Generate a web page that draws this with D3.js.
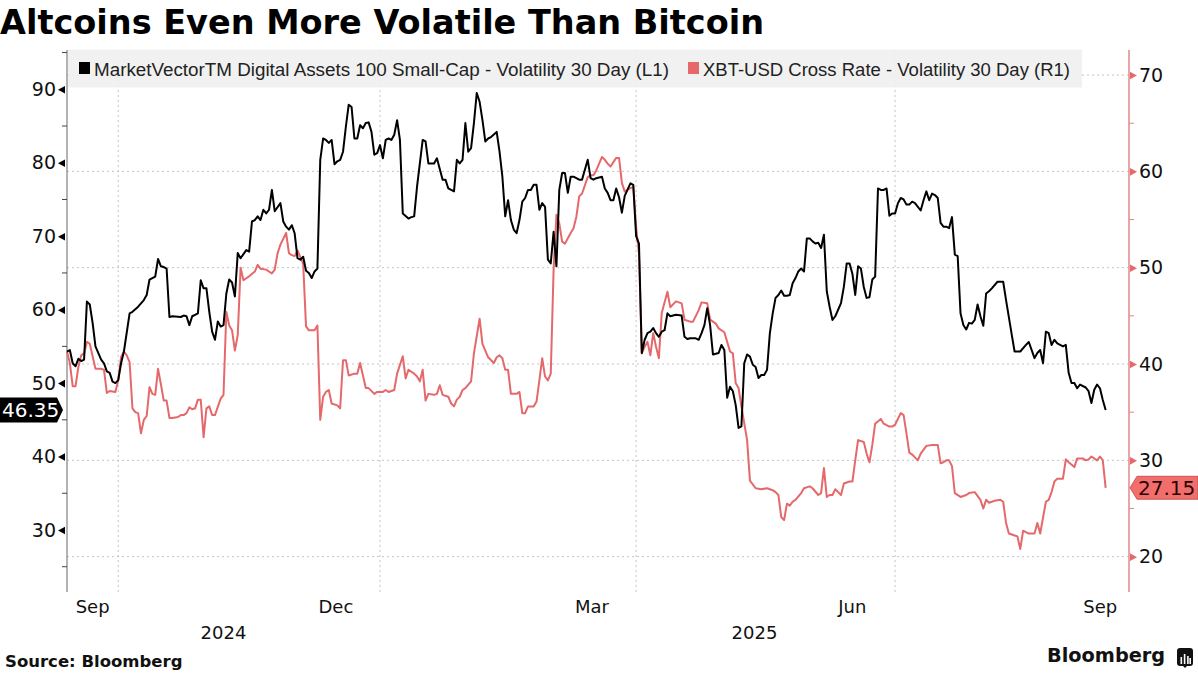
<!DOCTYPE html>
<html><head><meta charset="utf-8">
<script src="https://cdn.jsdelivr.net/npm/d3@7"></script>
<style>body{margin:0;background:#fff}svg{display:block}</style>
</head><body>
<svg id="chart" width="1198" height="673"></svg>
<script>
// ---------------- DATA ----------------
const titleText = "Altcoins Even More Volatile Than Bitcoin";
const seriesNames = ["MarketVectorTM Digital Assets 100 Small-Cap - Volatility 30 Day (L1)", "XBT-USD Cross Rate - Volatility 30 Day (R1)"];
const sourceText = "Source: Bloomberg";
const leftTicks = [30, 40, 50, 60, 70, 80, 90];
const leftMinorTicks = [25, 35, 45, 55, 65, 75, 85, 95];
const rightTicks = [20, 30, 40, 50, 60, 70];
const rightMinorTicks = [25, 35, 45, 55, 65];
const quarterTicks = ["2024-10-01", "2025-01-01", "2025-04-01", "2025-07-01"];
const monthLabels = [["Sep", "2024-09-01", "2024-10-01"], ["Dec", "2024-12-01", "2025-01-01"], ["Mar", "2025-03-01", "2025-04-01"], ["Jun", "2025-06-01", "2025-07-01"], ["Sep", "2025-09-01", "2025-10-01"]];
const yearLabels = [["2024", "2024-01-01", "2025-01-01"], ["2025", "2025-01-01", "2026-01-01"]];
const dateDomain = ["2024-09-13", "2025-09-21"];
const leftDomain = [21.56, 95.35];
const rightDomain = [16.33, 72.6];

const smallCapVol = [
["2024-09-13",54.3],["2024-09-14",54.5],["2024-09-15",52.7],["2024-09-16",52.3],["2024-09-17",53.3],["2024-09-18",53.0],["2024-09-19",53.2],["2024-09-20",61.1],["2024-09-21",60.7],["2024-09-22",58.2],["2024-09-23",55.0],["2024-09-25",53.2],["2024-09-26",52.7],["2024-09-27",51.6],["2024-09-28",51.4],["2024-09-29",50.2],["2024-09-30",50.0],
["2024-10-01",50.4],["2024-10-02",52.7],["2024-10-03",54.3],["2024-10-05",59.5],["2024-10-06",59.7],["2024-10-08",60.4],["2024-10-10",61.3],["2024-10-11",62.0],["2024-10-12",64.1],["2024-10-13",64.3],["2024-10-14",64.5],["2024-10-15",66.9],["2024-10-16",65.9],["2024-10-17",65.8],["2024-10-18",65.6],["2024-10-19",59.0],["2024-10-20",59.1],["2024-10-23",59.0],["2024-10-24",59.2],["2024-10-25",59.1],["2024-10-26",57.9],["2024-10-27",59.1],["2024-10-28",59.3],["2024-10-29",59.5],["2024-10-30",64.0],["2024-10-31",62.9],
["2024-11-01",62.9],["2024-11-02",59.7],["2024-11-03",57.0],["2024-11-04",55.9],["2024-11-05",58.4],["2024-11-06",57.7],["2024-11-07",57.9],["2024-11-08",62.2],["2024-11-09",64.1],["2024-11-10",63.7],["2024-11-11",61.8],["2024-11-12",67.7],["2024-11-13",67.0],["2024-11-15",68.1],["2024-11-16",67.9],["2024-11-17",72.0],["2024-11-18",72.2],["2024-11-19",72.7],["2024-11-20",72.2],["2024-11-21",73.6],["2024-11-22",73.1],["2024-11-23",73.6],["2024-11-24",76.3],["2024-11-25",73.4],["2024-11-27",74.5],["2024-11-28",72.0],["2024-11-29",71.3],["2024-11-30",70.9],
["2024-12-01",71.5],["2024-12-02",70.4],["2024-12-03",67.0],["2024-12-04",66.8],["2024-12-05",67.2],["2024-12-06",65.3],["2024-12-07",65.0],["2024-12-08",64.3],["2024-12-09",65.2],["2024-12-10",65.6],["2024-12-11",80.4],["2024-12-12",83.3],["2024-12-13",83.1],["2024-12-14",82.7],["2024-12-15",83.1],["2024-12-16",79.8],["2024-12-17",80.2],["2024-12-18",80.4],["2024-12-19",81.5],["2024-12-20",84.9],["2024-12-21",87.9],["2024-12-22",87.6],["2024-12-23",83.3],["2024-12-24",83.3],["2024-12-25",85.1],["2024-12-26",84.7],["2024-12-27",85.4],["2024-12-28",85.5],["2024-12-29",84.2],["2024-12-30",81.1],["2024-12-31",81.3],
["2025-01-01",82.4],["2025-01-02",80.6],["2025-01-03",83.1],["2025-01-04",83.3],["2025-01-05",83.1],["2025-01-06",83.8],["2025-01-07",85.8],["2025-01-08",83.1],["2025-01-09",73.1],["2025-01-11",72.4],["2025-01-12",72.6],["2025-01-13",72.7],["2025-01-14",76.7],["2025-01-16",83.1],["2025-01-17",82.9],["2025-01-18",79.9],["2025-01-19",79.9],["2025-01-20",79.9],["2025-01-21",80.6],["2025-01-23",77.7],["2025-01-24",77.7],["2025-01-25",76.5],["2025-01-26",76.3],["2025-01-27",76.1],["2025-01-28",80.4],["2025-01-29",79.9],["2025-01-30",80.4],["2025-01-31",85.4],
["2025-02-01",81.5],["2025-02-02",82.0],["2025-02-03",85.4],["2025-02-04",89.5],["2025-02-05",88.3],["2025-02-06",85.8],["2025-02-07",82.9],["2025-02-08",83.3],["2025-02-09",83.5],["2025-02-11",84.2],["2025-02-12",81.5],["2025-02-13",78.1],["2025-02-14",72.7],["2025-02-15",74.9],["2025-02-16",72.2],["2025-02-17",70.9],["2025-02-18",70.4],["2025-02-19",72.2],["2025-02-20",74.7],["2025-02-21",75.2],["2025-02-22",76.3],["2025-02-23",76.3],["2025-02-24",77.0],["2025-02-25",77.0],["2025-02-26",73.6],["2025-02-27",74.5],["2025-02-28",74.0],
["2025-03-01",66.8],["2025-03-02",66.3],["2025-03-03",70.6],["2025-03-04",65.9],["2025-03-05",76.3],["2025-03-06",78.6],["2025-03-07",78.6],["2025-03-08",75.9],["2025-03-09",78.1],["2025-03-10",78.1],["2025-03-12",77.7],["2025-03-13",77.7],["2025-03-15",80.4],["2025-03-16",77.9],["2025-03-17",77.7],["2025-03-18",77.9],["2025-03-20",78.1],["2025-03-21",76.5],["2025-03-22",75.9],["2025-03-23",74.9],["2025-03-24",74.9],["2025-03-25",76.5],["2025-03-26",75.3],["2025-03-27",73.2],["2025-03-28",75.5],["2025-03-30",77.2],["2025-03-31",77.0],
["2025-04-01",70.0],["2025-04-02",69.0],["2025-04-03",54.1],["2025-04-04",55.9],["2025-04-05",56.8],["2025-04-06",57.0],["2025-04-07",57.5],["2025-04-08",56.8],["2025-04-09",56.3],["2025-04-10",57.0],["2025-04-11",57.2],["2025-04-12",59.5],["2025-04-13",59.1],["2025-04-15",59.3],["2025-04-17",59.2],["2025-04-18",56.3],["2025-04-19",56.0],["2025-04-20",56.1],["2025-04-22",56.1],["2025-04-23",55.9],["2025-04-24",56.8],["2025-04-25",57.9],["2025-04-26",60.2],["2025-04-27",57.9],["2025-04-28",53.9],["2025-04-30",54.1],
["2025-05-01",55.2],["2025-05-02",54.5],["2025-05-03",48.0],["2025-05-04",49.5],["2025-05-05",48.9],["2025-05-06",47.0],["2025-05-07",43.9],["2025-05-08",44.1],["2025-05-09",52.7],["2025-05-10",53.9],["2025-05-11",53.6],["2025-05-12",52.5],["2025-05-13",52.2],["2025-05-14",50.7],["2025-05-15",51.1],["2025-05-16",51.1],["2025-05-17",51.8],["2025-05-18",56.8],["2025-05-19",59.5],["2025-05-20",61.6],["2025-05-21",62.0],["2025-05-22",62.6],["2025-05-23",61.9],["2025-05-24",61.9],["2025-05-25",62.0],["2025-05-26",63.6],["2025-05-27",64.3],["2025-05-28",65.2],["2025-05-29",65.6],["2025-05-30",65.2],["2025-05-31",69.7],
["2025-06-01",69.7],["2025-06-02",69.3],["2025-06-03",69.0],["2025-06-04",69.1],["2025-06-05",68.4],["2025-06-06",70.2],["2025-06-07",62.5],["2025-06-08",60.4],["2025-06-09",58.6],["2025-06-10",59.1],["2025-06-12",60.9],["2025-06-13",63.1],["2025-06-14",66.3],["2025-06-15",66.3],["2025-06-16",64.9],["2025-06-17",62.0],["2025-06-18",65.9],["2025-06-19",65.6],["2025-06-20",63.1],["2025-06-21",61.6],["2025-06-22",61.7],["2025-06-23",64.1],["2025-06-24",64.5],["2025-06-25",76.5],["2025-06-26",76.3],["2025-06-27",76.3],["2025-06-28",76.5],["2025-06-29",72.8],["2025-06-30",73.1],
["2025-07-01",73.1],["2025-07-02",74.5],["2025-07-03",75.2],["2025-07-04",75.0],["2025-07-05",74.3],["2025-07-06",74.3],["2025-07-07",74.7],["2025-07-08",74.5],["2025-07-10",73.5],["2025-07-11",74.9],["2025-07-12",76.1],["2025-07-13",74.9],["2025-07-14",75.8],["2025-07-15",75.6],["2025-07-16",75.2],["2025-07-17",71.8],["2025-07-18",71.3],["2025-07-19",71.3],["2025-07-20",71.1],["2025-07-21",72.6],["2025-07-22",67.5],["2025-07-23",67.3],["2025-07-24",59.5],["2025-07-25",57.9],["2025-07-26",57.3],["2025-07-27",58.2],["2025-07-28",58.1],["2025-07-29",58.6],["2025-07-30",60.7],["2025-07-31",59.1],
["2025-08-01",57.8],["2025-08-02",62.2],["2025-08-03",62.5],["2025-08-04",62.9],["2025-08-06",63.8],["2025-08-08",63.8],["2025-08-09",61.3],["2025-08-11",56.6],["2025-08-12",54.3],["2025-08-14",54.3],["2025-08-16",55.2],["2025-08-17",55.6],["2025-08-19",53.4],["2025-08-20",54.1],["2025-08-21",54.5],["2025-08-22",52.7],["2025-08-23",57.0],["2025-08-24",56.8],["2025-08-25",55.2],["2025-08-26",55.9],["2025-08-27",55.4],["2025-08-29",55.0],["2025-08-30",55.2],["2025-08-31",51.4],
["2025-09-01",50.0],["2025-09-02",50.0],["2025-09-03",49.3],["2025-09-04",49.8],["2025-09-06",49.4],["2025-09-07",48.9],["2025-09-08",47.3],["2025-09-09",49.1],["2025-09-10",49.8],["2025-09-11",49.3],["2025-09-12",47.7],["2025-09-13",46.35]
];

const bitcoinVol = [
["2024-09-13",41.3],["2024-09-14",40.1],["2024-09-15",37.7],["2024-09-16",37.7],["2024-09-17",39.7],["2024-09-18",40.9],["2024-09-19",41.1],["2024-09-20",42.3],["2024-09-21",42.1],["2024-09-23",39.5],["2024-09-25",39.5],["2024-09-26",39.4],["2024-09-27",37.0],["2024-09-28",37.2],["2024-09-30",37.1],
["2024-10-01",38.3],["2024-10-02",40.7],["2024-10-03",41.3],["2024-10-04",40.9],["2024-10-05",40.2],["2024-10-06",35.4],["2024-10-07",35.0],["2024-10-08",34.9],["2024-10-09",32.8],["2024-10-10",34.2],["2024-10-11",34.6],["2024-10-12",37.6],["2024-10-13",36.9],["2024-10-14",36.8],["2024-10-15",39.5],["2024-10-16",37.9],["2024-10-17",36.2],["2024-10-18",36.2],["2024-10-19",34.4],["2024-10-20",34.4],["2024-10-22",34.5],["2024-10-23",34.7],["2024-10-24",34.7],["2024-10-25",34.9],["2024-10-26",35.5],["2024-10-27",35.3],["2024-10-28",35.4],["2024-10-29",36.3],["2024-10-30",36.3],["2024-10-31",32.4],
["2024-11-01",35.4],["2024-11-02",35.6],["2024-11-03",34.7],["2024-11-04",34.7],["2024-11-06",36.4],["2024-11-07",36.8],["2024-11-08",45.4],["2024-11-09",44.0],["2024-11-10",43.5],["2024-11-11",41.4],["2024-11-12",43.0],["2024-11-13",50.0],["2024-11-14",48.7],["2024-11-15",48.9],["2024-11-16",49.1],["2024-11-18",49.6],["2024-11-19",50.3],["2024-11-20",49.9],["2024-11-22",49.8],["2024-11-24",49.4],["2024-11-25",49.8],["2024-11-26",51.5],["2024-11-27",52.4],["2024-11-29",53.6],["2024-11-30",51.5],
["2024-12-01",51.3],["2024-12-02",51.2],["2024-12-03",51.8],["2024-12-04",51.1],["2024-12-05",50.4],["2024-12-06",43.9],["2024-12-07",43.5],["2024-12-09",43.5],["2024-12-10",44.0],["2024-12-11",34.2],["2024-12-12",36.6],["2024-12-13",37.1],["2024-12-14",37.3],["2024-12-15",35.9],["2024-12-17",35.7],["2024-12-18",35.4],["2024-12-19",40.4],["2024-12-20",40.4],["2024-12-21",38.8],["2024-12-23",39.0],["2024-12-24",39.0],["2024-12-25",40.1],["2024-12-26",38.8],["2024-12-27",37.5],["2024-12-28",37.5],["2024-12-30",36.9],["2024-12-31",37.1],
["2025-01-02",37.1],["2025-01-03",37.3],["2025-01-04",37.1],["2025-01-06",37.3],["2025-01-07",39.0],["2025-01-09",40.8],["2025-01-10",38.5],["2025-01-11",39.4],["2025-01-13",39.0],["2025-01-14",38.7],["2025-01-15",38.2],["2025-01-16",39.4],["2025-01-17",36.2],["2025-01-18",36.9],["2025-01-20",36.8],["2025-01-21",36.9],["2025-01-22",37.8],["2025-01-23",36.8],["2025-01-25",36.6],["2025-01-26",35.9],["2025-01-27",35.6],["2025-01-28",36.3],["2025-01-29",36.6],["2025-01-30",37.3],["2025-01-31",37.5],
["2025-02-02",38.2],["2025-02-03",41.1],["2025-02-05",44.7],["2025-02-06",42.1],["2025-02-07",41.4],["2025-02-08",40.7],["2025-02-10",40.1],["2025-02-11",40.7],["2025-02-12",40.9],["2025-02-13",40.6],["2025-02-14",39.4],["2025-02-15",39.4],["2025-02-16",36.9],["2025-02-18",36.9],["2025-02-19",37.1],["2025-02-20",34.9],["2025-02-21",34.9],["2025-02-22",35.6],["2025-02-24",35.6],["2025-02-25",36.1],["2025-02-26",38.3],["2025-02-27",40.6],["2025-02-28",38.7],
["2025-03-01",38.3],["2025-03-02",39.0],["2025-03-03",49.8],["2025-03-04",55.5],["2025-03-05",54.6],["2025-03-06",52.7],["2025-03-07",52.5],["2025-03-09",53.6],["2025-03-10",54.1],["2025-03-11",55.3],["2025-03-12",57.4],["2025-03-13",57.7],["2025-03-15",59.4],["2025-03-16",59.6],["2025-03-17",59.6],["2025-03-18",60.1],["2025-03-20",61.5],["2025-03-21",61.2],["2025-03-22",60.8],["2025-03-23",60.5],["2025-03-25",61.4],["2025-03-26",61.4],["2025-03-27",58.8],["2025-03-28",57.9],["2025-03-29",58.1],["2025-03-31",58.4],
["2025-04-01",54.2],["2025-04-02",51.5],["2025-04-03",41.1],["2025-04-04",41.8],["2025-04-05",42.3],["2025-04-06",40.9],["2025-04-07",43.2],["2025-04-08",41.8],["2025-04-09",40.6],["2025-04-10",45.3],["2025-04-12",47.5],["2025-04-13",45.9],["2025-04-15",46.5],["2025-04-17",46.3],["2025-04-18",44.6],["2025-04-20",44.4],["2025-04-21",44.4],["2025-04-23",45.6],["2025-04-24",46.4],["2025-04-26",46.3],["2025-04-27",44.6],["2025-04-29",44.2],["2025-04-30",43.7],
["2025-05-02",43.3],["2025-05-03",42.3],["2025-05-04",41.3],["2025-05-05",41.1],["2025-05-06",38.0],["2025-05-07",37.5],["2025-05-08",35.6],["2025-05-10",32.1],["2025-05-11",27.9],["2025-05-13",27.1],["2025-05-15",27.0],["2025-05-17",27.1],["2025-05-19",26.9],["2025-05-20",26.7],["2025-05-21",26.4],["2025-05-22",24.1],["2025-05-23",23.8],["2025-05-24",25.5],["2025-05-25",25.3],["2025-05-26",25.7],["2025-05-27",25.9],["2025-05-29",26.6],["2025-05-30",27.1],
["2025-06-01",27.3],["2025-06-02",27.1],["2025-06-04",26.4],["2025-06-05",26.6],["2025-06-06",29.2],["2025-06-07",26.2],["2025-06-08",26.4],["2025-06-09",26.4],["2025-06-10",27.0],["2025-06-11",26.7],["2025-06-12",26.4],["2025-06-13",27.6],["2025-06-15",27.8],["2025-06-16",27.8],["2025-06-17",30.0],["2025-06-18",32.1],["2025-06-20",31.9],["2025-06-21",30.7],["2025-06-22",29.8],["2025-06-23",31.6],["2025-06-24",33.8],["2025-06-26",34.3],["2025-06-27",33.8],["2025-06-29",33.5],["2025-06-30",33.5],
["2025-07-01",33.7],["2025-07-03",34.9],["2025-07-04",34.7],["2025-07-05",32.8],["2025-07-06",30.8],["2025-07-07",30.6],["2025-07-09",30.0],["2025-07-10",30.7],["2025-07-12",31.5],["2025-07-14",31.6],["2025-07-16",31.6],["2025-07-17",29.7],["2025-07-18",29.8],["2025-07-19",30.0],["2025-07-20",30.0],["2025-07-21",29.4],["2025-07-22",26.6],["2025-07-24",26.2],["2025-07-26",26.4],["2025-07-27",26.6],["2025-07-29",26.7],["2025-07-31",25.9],
["2025-08-01",25.0],["2025-08-02",25.9],["2025-08-03",25.6],["2025-08-05",25.8],["2025-08-07",25.9],["2025-08-08",25.7],["2025-08-09",23.5],["2025-08-10",22.4],["2025-08-12",22.2],["2025-08-13",22.1],["2025-08-14",20.8],["2025-08-15",22.7],["2025-08-17",22.4],["2025-08-19",22.4],["2025-08-20",23.5],["2025-08-21",22.4],["2025-08-23",25.7],["2025-08-24",25.9],["2025-08-25",26.7],["2025-08-26",27.8],["2025-08-27",28.1],["2025-08-29",28.1],["2025-08-30",30.1],["2025-08-31",29.8],
["2025-09-02",29.3],["2025-09-03",30.2],["2025-09-05",30.2],["2025-09-06",30.0],["2025-09-07",30.1],["2025-09-08",30.4],["2025-09-10",30.0],["2025-09-11",30.4],["2025-09-12",30.0],["2025-09-13",27.15]
];

// ---------------- CHART ----------------
const BLACK = "#000000", RED = "#e5686a", RED_AXIS = "#e08a86", GRID = "#c4c4c4";
const BODY = "'DejaVu Sans', sans-serif";
const svg = d3.select("#chart");
const parse = d3.utcParse("%Y-%m-%d");
const plot = {left: 67, right: 1129, top: 50, bottom: 592};

const x = d3.scaleUtc().domain([parse(dateDomain[0]), d3.utcHour.offset(parse(dateDomain[1]), 5)]).range([plot.left, plot.right]);
const yL = d3.scaleLinear().domain(leftDomain).range([plot.bottom, plot.top]);
const yR = d3.scaleLinear().domain(rightDomain).range([plot.bottom, plot.top]);

// title
svg.append("text").attr("x", 0).attr("y", 34).text(titleText)
  .attr("font-family", "'DejaVu Sans', sans-serif").attr("font-weight", "bold")
  .attr("font-size", 33.5).attr("fill", "#000");

// gridlines
const grid = svg.append("g");
grid.selectAll("line.h").data(rightTicks).join("line")
  .attr("x1", plot.left).attr("x2", plot.right)
  .attr("y1", d => yR(d)).attr("y2", d => yR(d))
  .attr("stroke", GRID).attr("stroke-width", 1).attr("stroke-dasharray", "2,3");
grid.selectAll("line.v").data(quarterTicks).join("line")
  .attr("x1", d => x(parse(d))).attr("x2", d => x(parse(d)))
  .attr("y1", plot.top).attr("y2", plot.bottom)
  .attr("stroke", GRID).attr("stroke-width", 1).attr("stroke-dasharray", "2,3");

// legend
const lg = svg.append("g");
lg.append("rect").attr("x", plot.left + 1).attr("y", 49.5).attr("width", 1014).attr("height", 38)
  .attr("fill", "#efefef").attr("opacity", 0.9);
const legendItems = [
  {name: seriesNames[0], color: BLACK, sx: 79, tx: 94, len: 575},
  {name: seriesNames[1], color: RED, sx: 688, tx: 703, len: 367}
];
legendItems.forEach(it => {
  lg.append("rect").attr("x", it.sx).attr("y", 62).attr("width", 11).attr("height", 12).attr("fill", it.color);
  lg.append("text").attr("x", it.tx).attr("y", 75.5).text(it.name)
    .attr("font-family", "'Liberation Sans', Arial, sans-serif").attr("font-size", 17.5).attr("fill", "#222")
    .attr("textLength", it.len).attr("lengthAdjust", "spacingAndGlyphs");
});

// left axis
svg.append("line").attr("x1", plot.left).attr("x2", plot.left).attr("y1", plot.top).attr("y2", plot.bottom)
  .attr("stroke", "#808080").attr("stroke-width", 1.2);
const gL = svg.append("g").attr("transform", `translate(${plot.left},0)`)
  .call(d3.axisLeft(yL).tickValues(leftTicks).tickSize(0).tickPadding(11).tickFormat(d3.format("d")));
gL.select(".domain").remove();
gL.selectAll("text").attr("font-family", BODY).attr("font-size", 19).attr("fill", "#111");
gL.selectAll(".tick").append("path").attr("d", "M-9,0L-2,-3.8L-2,3.8Z").attr("fill", "#000");
svg.append("g").selectAll("line").data(leftMinorTicks).join("line")
  .attr("x1", plot.left - 5).attr("x2", plot.left).attr("y1", d => yL(d)).attr("y2", d => yL(d))
  .attr("stroke", "#444").attr("stroke-width", 1);

// right axis
svg.append("line").attr("x1", plot.right).attr("x2", plot.right).attr("y1", plot.top).attr("y2", plot.bottom)
  .attr("stroke", RED_AXIS).attr("stroke-width", 1.5);
const gR = svg.append("g").attr("transform", `translate(${plot.right},0)`)
  .call(d3.axisRight(yR).tickValues(rightTicks).tickSize(0).tickPadding(10).tickFormat(d3.format("d")));
gR.select(".domain").remove();
gR.selectAll("text").attr("font-family", BODY).attr("font-size", 19).attr("fill", "#111");
gR.selectAll(".tick").append("path").attr("d", "M1,-3.8L8,0L1,3.8Z").attr("fill", RED);
svg.append("g").selectAll("line").data(rightMinorTicks).join("line")
  .attr("x1", plot.right).attr("x2", plot.right + 5).attr("y1", d => yR(d)).attr("y2", d => yR(d))
  .attr("stroke", RED_AXIS).attr("stroke-width", 1);

// bottom labels
const [d0, d1] = x.domain();
function midX(a, b) {
  const s = new Date(Math.max(+parse(a), +d0)), e = new Date(Math.min(+parse(b), +d1));
  return (x(s) + x(e)) / 2;
}
svg.append("g").selectAll("text").data(monthLabels).join("text")
  .attr("x", d => midX(d[1], d[2])).attr("y", 613).attr("text-anchor", "middle").text(d => d[0])
  .attr("font-family", BODY).attr("font-size", 18).attr("fill", "#111");
svg.append("g").selectAll("text").data(yearLabels).join("text")
  .attr("x", d => midX(d[1], d[2])).attr("y", 639).attr("text-anchor", "middle").text(d => d[0])
  .attr("font-family", BODY).attr("font-size", 18).attr("fill", "#111");

// lines
svg.append("path").datum(bitcoinVol)
  .attr("d", d3.line().x(d => x(parse(d[0]))).y(d => yR(d[1])))
  .attr("fill", "none").attr("stroke", RED).attr("stroke-width", 2).attr("stroke-linejoin", "round");
svg.append("path").datum(smallCapVol)
  .attr("d", d3.line().x(d => x(parse(d[0]))).y(d => yL(d[1])))
  .attr("fill", "none").attr("stroke", BLACK).attr("stroke-width", 2).attr("stroke-linejoin", "round");

// last-value tags
const lastL = smallCapVol[smallCapVol.length - 1][1];
const lastR = bitcoinVol[bitcoinVol.length - 1][1];
const yl = yL(lastL), yr = yR(lastR);
svg.append("path").attr("d", `M0,${yl - 12.5}H57L63,${yl}L57,${yl + 12.5}H0Z`).attr("fill", "#000");
svg.append("text").attr("x", 2).attr("y", yl).attr("dy", "0.36em").text(d3.format(".2f")(lastL))
  .attr("font-family", BODY).attr("font-size", 20).attr("fill", "#fff");
svg.append("path").attr("d", `M${plot.right + 1},${yr}L${plot.right + 8},${yr - 11.5}H1198V${yr + 11.5}H${plot.right + 8}Z`)
  .attr("fill", "#f26e6c").attr("stroke", "#b84a48").attr("stroke-width", 0.8);
svg.append("text").attr("x", 1138).attr("y", yr).attr("dy", "0.36em").text(d3.format(".2f")(lastR))
  .attr("font-family", BODY).attr("font-size", 20).attr("fill", "#2a0505");

// footer
svg.append("text").attr("x", 5).attr("y", 667).text(sourceText)
  .attr("font-family", "'DejaVu Sans', sans-serif").attr("font-weight", "bold").attr("font-size", 16.5).attr("fill", "#111");
svg.append("text").attr("x", 1047).attr("y", 662).text("Bloomberg")
  .attr("font-family", "'DejaVu Sans', sans-serif").attr("font-weight", "bold").attr("font-size", 19.3).attr("fill", "#111");
const logo = svg.append("g").attr("transform", "translate(1177,648)");
logo.append("path").attr("d", "M3,0H13Q16,0 16,3V15Q16,18 13,18H10L8,20L6,18H3Q0,18 0,15V3Q0,0 3,0Z").attr("fill", "#111");
[[3.5, 9, 7], [6.8, 6, 10], [10.1, 8, 8], [12.4, 10, 6]].forEach(b => {
  logo.append("rect").attr("x", b[0]).attr("y", b[1]).attr("width", 1.6).attr("height", b[2]).attr("fill", "#fff");
});
</script>
</body></html>
